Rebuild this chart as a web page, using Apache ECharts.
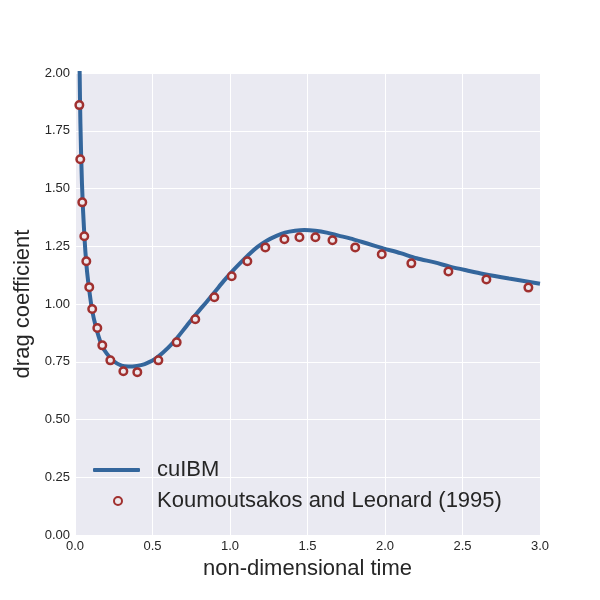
<!DOCTYPE html>
<html>
<head>
<meta charset="utf-8">
<script src="https://cdn.jsdelivr.net/npm/echarts@6/dist/echarts.min.js"></script>
<style>html,body{margin:0;padding:0;background:#fff}#c{width:600px;height:600px}</style>
</head>
<body>
<div id="c"></div>
<script>
// cuIBM simulation curve (time, drag coefficient)
var cuibmTime = [0.025,0.03,0.035,0.045,0.06,0.075,0.09,0.11,0.135,0.17,0.205,0.25,0.3,0.344,0.4,0.45,0.5,0.537,0.6,0.656,0.72,0.785,0.85,0.903,0.96,1.022,1.08,1.129,1.18,1.237,1.3,1.355,1.42,1.48,1.55,1.624,1.7,1.774,1.88,1.989,2.1,2.204,2.32,2.419,2.53,2.634,2.8,3.0];
var cuibmCd   = [2.3,2.0,1.78,1.52,1.30,1.16,1.07,0.975,0.90,0.825,0.785,0.752,0.733,0.729,0.732,0.740,0.755,0.772,0.81,0.851,0.905,0.959,1.01,1.053,1.10,1.147,1.187,1.219,1.248,1.274,1.295,1.309,1.317,1.320,1.317,1.309,1.296,1.284,1.263,1.241,1.22,1.198,1.18,1.162,1.145,1.130,1.11,1.088];
// Koumoutsakos and Leonard (1995) reference points
var klTime = [0.028,0.034,0.047,0.06,0.073,0.092,0.111,0.144,0.176,0.228,0.312,0.402,0.538,0.656,0.776,0.899,1.011,1.112,1.228,1.351,1.448,1.551,1.661,1.808,1.979,2.170,2.409,2.654,2.925];
var klCd   = [1.861,1.627,1.440,1.293,1.185,1.073,0.978,0.896,0.821,0.756,0.709,0.705,0.756,0.834,0.934,1.029,1.120,1.185,1.245,1.280,1.289,1.289,1.276,1.245,1.215,1.176,1.141,1.106,1.071];
var xTicks = [0,0.5,1.0,1.5,2.0,2.5,3.0];
var yTicks = [0,0.25,0.5,0.75,1.0,1.25,1.5,1.75,2.0];

var lineData = cuibmTime.map(function(t,i){return [t,cuibmCd[i]];});
var ptData = klTime.map(function(t,i){return [t,klCd[i]];});

var txt = '#262626';
var lineColor = '#34669c';
var ptColor = '#a0302f';
var font = '"Liberation Sans", Arial, sans-serif';
var chart = echarts.init(document.getElementById('c'), null, {renderer:'canvas'});
chart.setOption({
  animation:false,
  backgroundColor:'#ffffff',
  textStyle:{fontFamily:font},
  grid:{left:75,right:60,top:73,bottom:65,show:true,backgroundColor:'#EAEAF2',borderWidth:0},
  xAxis:{type:'value',min:xTicks[0],max:xTicks[xTicks.length-1],interval:0.5,
    name:'non-dimensional time',nameLocation:'middle',nameGap:20,
    nameTextStyle:{fontSize:22,color:txt,fontFamily:font},
    axisLine:{show:false},axisTick:{show:false},
    axisLabel:{fontSize:13,color:txt,margin:5,fontFamily:font,formatter:function(v){return v.toFixed(1);}},
    splitLine:{show:true,lineStyle:{color:'#ffffff',width:1}}},
  yAxis:{type:'value',min:yTicks[0],max:yTicks[yTicks.length-1],interval:0.25,
    name:'drag coefficient',nameLocation:'middle',nameGap:37,nameRotate:90,
    nameTextStyle:{fontSize:22,color:txt,fontFamily:font},
    axisLine:{show:false},axisTick:{show:false},
    axisLabel:{fontSize:13,color:txt,margin:5,fontFamily:font,formatter:function(v){return v.toFixed(2);}},
    splitLine:{show:true,lineStyle:{color:'#ffffff',width:1}}},
  legend:[
    {data:[{name:'cuIBM',icon:'roundRect',itemStyle:{color:lineColor,borderWidth:0}}],
     left:93,top:459,padding:0,itemWidth:47,itemHeight:4,
     textStyle:{fontSize:22,color:txt,fontFamily:font,padding:[0,0,0,12]}},
    {data:[{name:'Koumoutsakos and Leonard (1995)',icon:'circle'}],
     left:113,top:490,padding:0,itemWidth:8,itemHeight:8,
     textStyle:{fontSize:22,color:txt,fontFamily:font,padding:[0,0,0,30]}}
  ],
  series:[
    {name:'cuIBM',type:'line',data:lineData,smooth:0.3,symbol:'none',clip:true,
     lineStyle:{color:lineColor,width:4},itemStyle:{color:lineColor},z:2},
    {name:'Koumoutsakos and Leonard (1995)',type:'scatter',data:ptData,symbol:'circle',symbolSize:7.5,
     itemStyle:{color:'#eee8ec',borderColor:ptColor,borderWidth:2.5,opacity:1},z:3}
  ]
});
</script>
</body>
</html>
